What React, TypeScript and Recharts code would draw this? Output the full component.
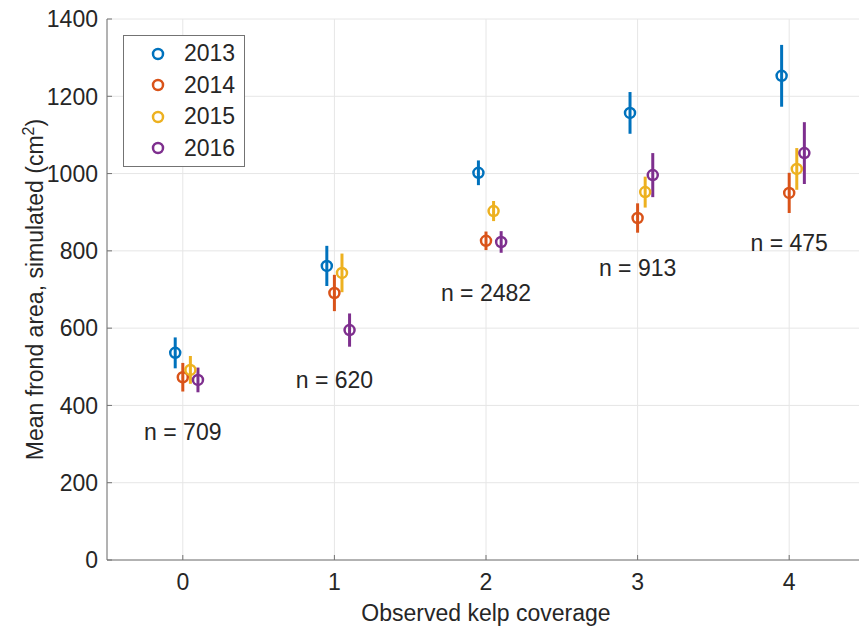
import React from "react";
import {
  ScatterChart, Scatter, XAxis, YAxis, CartesianGrid, ErrorBar,
} from "recharts";

// observed kelp coverage classes
const coverage = [0, 1, 2, 3, 4];
const years = ["2013", "2014", "2015", "2016"];
const colors = ["#0072BD", "#D95319", "#EDB120", "#7E2F8E"];
// small dodge so the four years do not sit on top of each other
const dodge = [-0.05, 0, 0.05, 0.1];

const mean2013 = [536, 761, 1002, 1157, 1253];
const err2013 = [40, 52, 32, 54, 80];
const mean2014 = [473, 691, 826, 885, 950];
const err2014 = [37, 47, 24, 38, 52];
const mean2015 = [492, 743, 903, 952, 1012];
const err2015 = [36, 50, 26, 40, 54];
const mean2016 = [466, 595, 823, 996, 1053];
const err2016 = [32, 43, 28, 57, 80];

const sampleSizes = [709, 620, 2482, 913, 475];
const sampleLabelY = [331, 466, 691, 756, 820];

const yTicks = [0, 200, 400, 600, 800, 1000, 1200, 1400];

const means = [mean2013, mean2014, mean2015, mean2016];
const errs = [err2013, err2014, err2015, err2016];

const series = years.map((yr, s) => ({
  name: yr,
  color: colors[s],
  data: coverage.map((c, i) => ({ x: c + dodge[s], y: means[s][i], err: errs[s][i] })),
}));

const nLabels = coverage.map((c, i) => ({ x: c, y: sampleLabelY[i], text: `n = ${sampleSizes[i]}` }));

const FONT = "Arial, 'Liberation Sans', Helvetica, sans-serif";
const FS = 23;
const TXT = "#262626";
const AXIS = "#737373";

const XTick = (props: any) => {
  const { x, y, payload } = props;
  return (
    <g>
      <line x1={x} y1={y} x2={x} y2={y - 5} stroke={AXIS} strokeWidth={1} />
      <text x={x} y={y + 30} textAnchor="middle" fontSize={FS} fill={TXT} fontFamily={FONT}>
        {payload.value}
      </text>
    </g>
  );
};

const YTick = (props: any) => {
  const { x, y, payload } = props;
  return (
    <g>
      <line x1={x} y1={y} x2={x + 5} y2={y} stroke={AXIS} strokeWidth={1} />
      <text x={x - 9} y={y} dy="0.36em" textAnchor="end" fontSize={FS} fill={TXT} fontFamily={FONT}>
        {payload.value}
      </text>
    </g>
  );
};

// legend drawn as an overlay so it does not steal room from the plot
const LegendBox = () => (
  <div
    style={{
      position: "absolute",
      left: 123,
      top: 35,
      width: 122,
      height: 132,
      border: `1px solid ${AXIS}`,
      background: "#fff",
      boxSizing: "border-box",
      paddingTop: 2,
    }}
  >
    {series.map((s) => (
      <div key={s.name} style={{ display: "flex", alignItems: "center", height: 31.5 }}>
        <svg width={60} height={20} style={{ flex: "none" }}>
          <circle cx={34} cy={10} r={5} fill="none" stroke={s.color} strokeWidth={2.5} />
        </svg>
        <span style={{ fontFamily: FONT, fontSize: FS, color: TXT }}>{s.name}</span>
      </div>
    ))}
  </div>
);

export default function App() {
  return (
    <div
      style={{
        position: "absolute", left: 0, top: 0, width: 859, height: 630,
        overflow: "hidden", background: "#fff",
      }}
    >
      <ScatterChart width={870} height={630} margin={{ top: 19, right: 5, bottom: 0, left: 0 }}>
        <CartesianGrid stroke="#e6e6e6" strokeWidth={1} />
        <XAxis
          type="number"
          dataKey="x"
          domain={[-0.5, 4.5]}
          ticks={coverage}
          height={70}
          tickSize={0}
          tickMargin={0}
          tickLine={false}
          stroke={AXIS}
          tick={<XTick />}
          label={{
            content: (p: any) => (
              <text
                x={p.viewBox.x + p.viewBox.width / 2}
                y={p.viewBox.y + 61}
                textAnchor="middle"
                fontSize={FS}
                fill={TXT}
                fontFamily={FONT}
              >
                Observed kelp coverage
              </text>
            ),
          }}
        />
        <YAxis
          type="number"
          dataKey="y"
          domain={[0, 1400]}
          ticks={yTicks}
          width={107}
          tickSize={0}
          tickMargin={0}
          tickLine={false}
          stroke={AXIS}
          tick={<YTick />}
          label={{
            content: (p: any) => {
              const cx = 35;
              const cy = p.viewBox.y + p.viewBox.height / 2;
              return (
                <text
                  transform={`translate(${cx},${cy}) rotate(-90)`}
                  textAnchor="middle"
                  dy="0.36em"
                  fontSize={FS}
                  fill={TXT}
                  fontFamily={FONT}
                >
                  Mean frond area, simulated (cm
                  <tspan dy={-9} fontSize={16}>2</tspan>
                  <tspan dy={9}>)</tspan>
                </text>
              );
            },
          }}
        />
        {series.map((s) => (
          <Scatter
            key={s.name}
            name={s.name}
            data={s.data}
            fill={s.color}
            isAnimationActive={false}
            shape={(p: any) => (
              <circle cx={p.cx} cy={p.cy} r={5} fill="none" stroke={s.color} strokeWidth={2.5} />
            )}
          >
            <ErrorBar dataKey="err" direction="y" width={0} stroke={s.color} strokeWidth={3} isAnimationActive={false} />
          </Scatter>
        ))}
        <Scatter
          name="n"
          data={nLabels}
          legendType="none"
          isAnimationActive={false}
          shape={(p: any) => (
            <text
              x={p.cx}
              y={p.cy}
              dy="0.36em"
              textAnchor="middle"
              fontSize={FS}
              fill={TXT}
              fontFamily={FONT}
            >
              {p.payload.text}
            </text>
          )}
        />
      </ScatterChart>
      <LegendBox />
    </div>
  );
}
